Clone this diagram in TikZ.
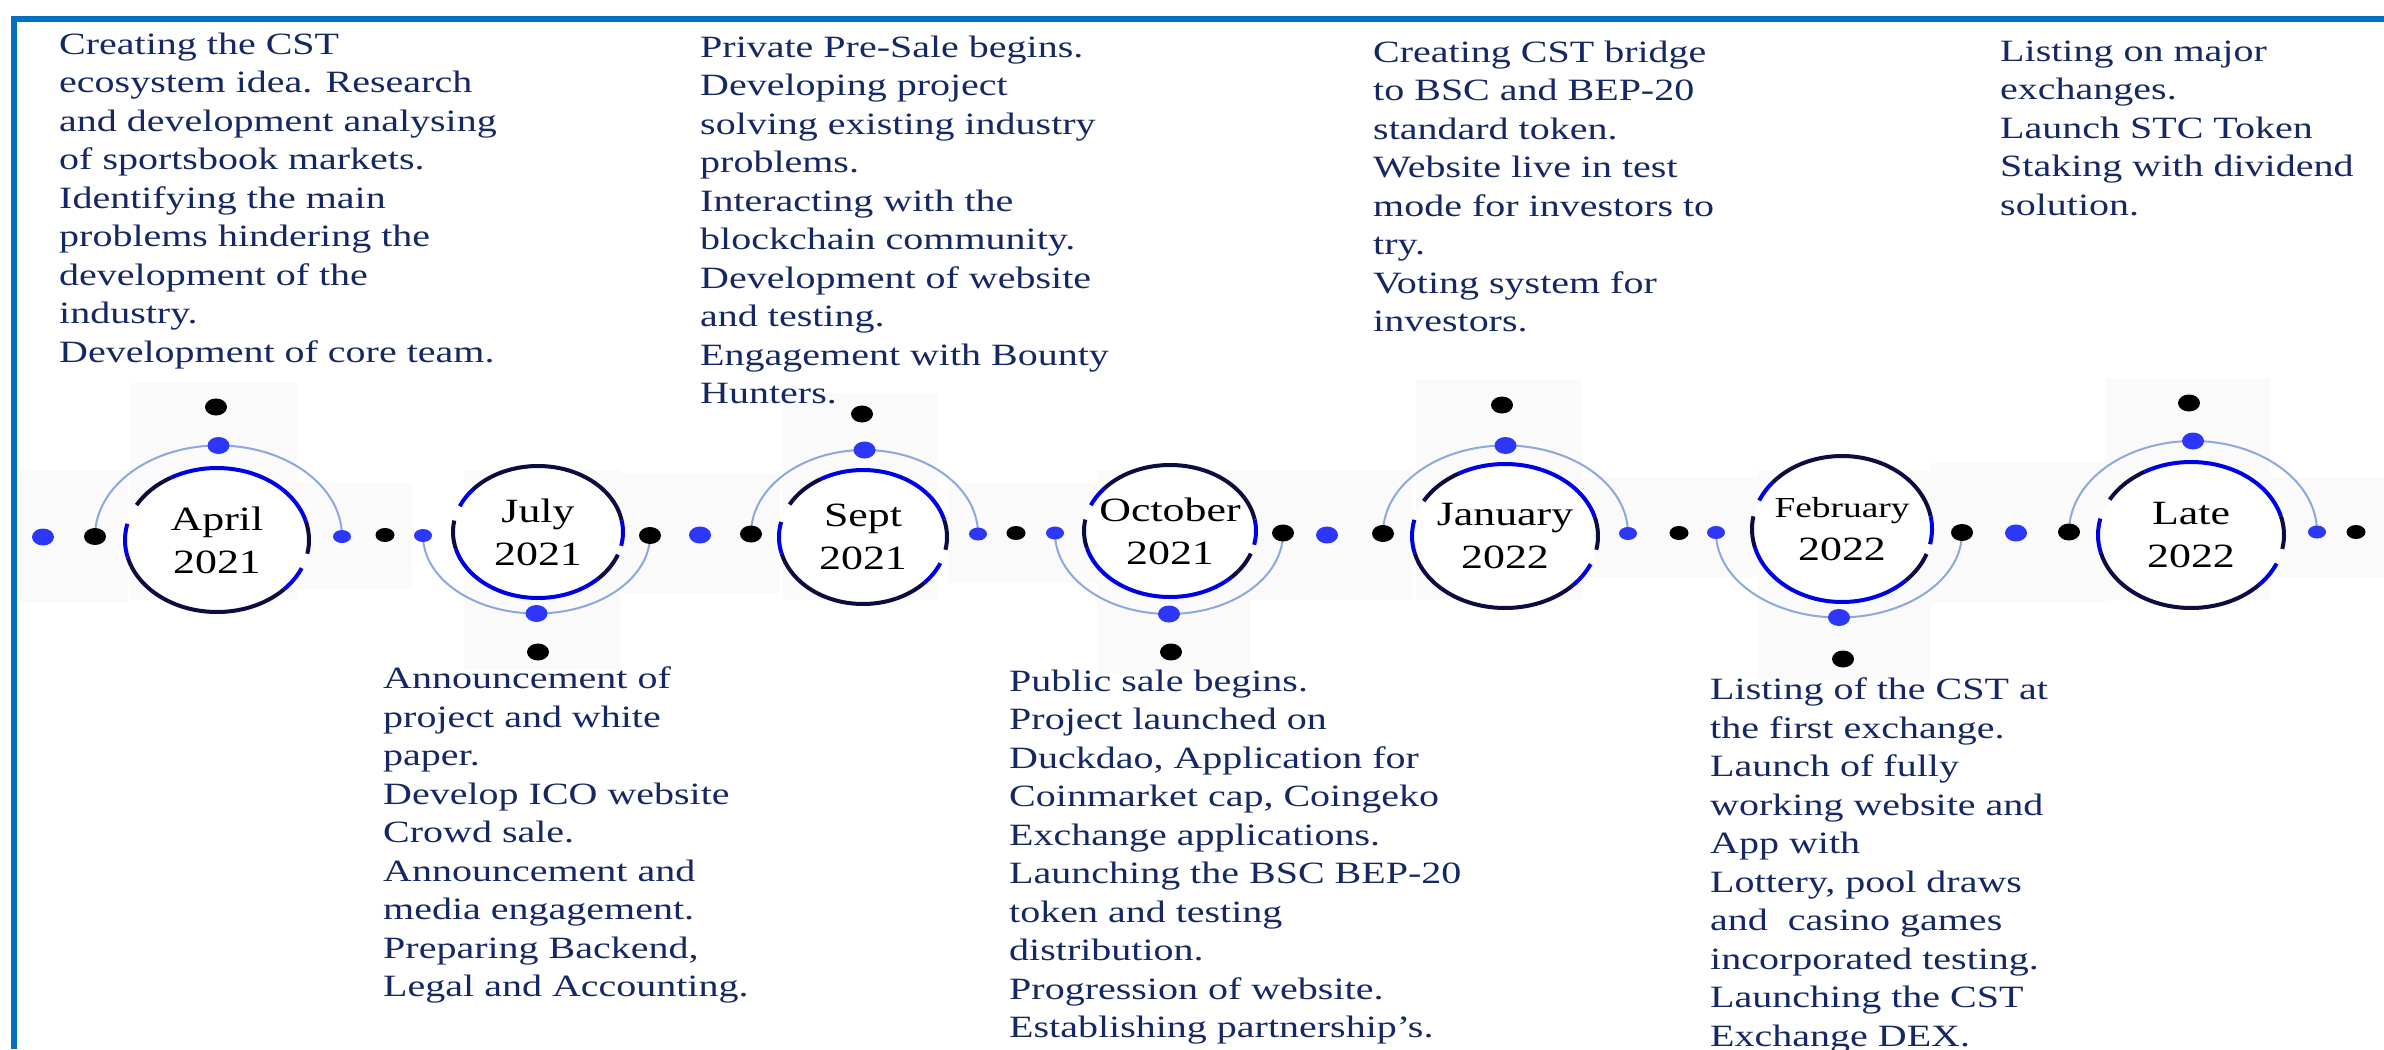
\documentclass[tikz,border=0pt]{standalone}
\usepackage{fontspec}
\setmainfont[FakeStretch=1.29]{Liberation Serif}
\usetikzlibrary{shapes.geometric}
\pgfdeclarelayer{bg}
\pgfsetlayers{bg,main}
\definecolor{frameblue}{RGB}{0,112,192}
\definecolor{txtnavy}{RGB}{22,40,100}
\definecolor{ringnavy}{RGB}{12,12,64}
\definecolor{ringblue}{RGB}{0,0,230}
\definecolor{dotblue}{RGB}{45,55,250}
\definecolor{arclight}{RGB}{140,168,220}
\definecolor{patchgray}{RGB}{250,250,250}
% segment: color, center, rx, ry, start, end
\newcommand{\seg}[6]{\draw[ringline,#1] (#2) ++(#5:#3 and #4) arc[start angle=#5, end angle=#6, x radius=#3, y radius=#4];}
\newcommand{\ringup}[3]{%
  \fill[white] (#1) ellipse [x radius=#2, y radius=#3];
  \seg{ringnavy}{#1}{#2}{#3}{-151}{-120}
  \seg{ringblue}{#1}{#2}{#3}{-120}{-15}
  \seg{ringnavy}{#1}{#2}{#3}{-15}{11}
  \seg{ringblue}{#1}{#2}{#3}{23}{43}
  \seg{ringnavy}{#1}{#2}{#3}{43}{166}
  \seg{ringblue}{#1}{#2}{#3}{166}{193}}
\newcommand{\ringdown}[3]{%
  \fill[white] (#1) ellipse [x radius=#2, y radius=#3];
  \seg{ringblue}{#1}{#2}{#3}{-157}{-140}
  \seg{ringnavy}{#1}{#2}{#3}{-140}{-10}
  \seg{ringblue}{#1}{#2}{#3}{-10}{12}
  \seg{ringnavy}{#1}{#2}{#3}{20}{45}
  \seg{ringblue}{#1}{#2}{#3}{45}{165}
  \seg{ringnavy}{#1}{#2}{#3}{165}{190}}
\begin{document}
\begin{tikzpicture}[x=1pt,y=-1pt,
  txt/.style={anchor=north west, inner sep=0pt, align=left, text=txtnavy, font=\fontsize{31}{38.5}\selectfont},
  lbl/.style={align=center, inner sep=0pt, text=black, font=\fontsize{34}{43}\selectfont},
  bbig/.style={ellipse, fill=dotblue, minimum width=22pt, minimum height=17pt, inner sep=0pt},
  bsm/.style={ellipse, fill=dotblue, minimum width=18pt, minimum height=13pt, inner sep=0pt},
  kbig/.style={ellipse, fill=black, minimum width=22pt, minimum height=17pt, inner sep=0pt},
  ksm/.style={ellipse, fill=black, minimum width=19pt, minimum height=14pt, inner sep=0pt},
  lightarc/.style={draw=arclight, line width=2pt},
  ringline/.style={line width=4pt},
  patch/.style={fill=patchgray}]
\useasboundingbox (0,0) rectangle (2384,1049);

% ---------- dots on the time line ----------
\node[bbig] (d1) at (43,537) {};
\node[kbig] (aL) at (95,536.5) {};
\node[bsm]  (aR) at (342,536.5) {};
\node[bbig] (aT) at (218.5,445.5) {};
\node[kbig] (aTT) at (216,407) {};
\node[ksm]  (d2) at (385,535) {};
\node[bsm]  (bL) at (423,535.5) {};
\node[kbig] (bR) at (650,535.5) {};
\node[bbig] (bB) at (536.5,613.5) {};
\node[kbig] (bBB) at (538,652) {};
\node[bbig] (d3) at (700,535) {};
\node[kbig] (cL) at (751,534) {};
\node[bsm]  (cR) at (978,534) {};
\node[bbig] (cT) at (864.5,450) {};
\node[kbig] (cTT) at (862,414) {};
\node[ksm]  (d4) at (1016,533) {};
\node[bsm]  (eL) at (1055,533) {};
\node[kbig] (eR) at (1283,533) {};
\node[bbig] (eB) at (1169,614) {};
\node[kbig] (eBB) at (1171,652) {};
\node[bbig] (d5) at (1327,535) {};
\node[kbig] (fL) at (1383,533.5) {};
\node[bsm]  (fR) at (1628,533.5) {};
\node[bbig] (fT) at (1505.5,445.5) {};
\node[kbig] (fTT) at (1502,405) {};
\node[ksm]  (d6) at (1679,533) {};
\node[bsm]  (gL) at (1716,532.5) {};
\node[kbig] (gR) at (1962,532.5) {};
\node[bbig] (gB) at (1839,617.5) {};
\node[kbig] (gBB) at (1843,659) {};
\node[bbig] (d7) at (2016,533) {};
\node[kbig] (hL) at (2069,532) {};
\node[bsm]  (hR) at (2317,532) {};
\node[bbig] (hT) at (2193,441) {};
\node[kbig] (hTT) at (2189,403) {};
\node[ksm]  (d8) at (2356,532) {};

% ring centres
\coordinate (cA) at (217,540);
\coordinate (cB) at (538,532);
\coordinate (cC) at (863,537);
\coordinate (cD) at (1170,531);
\coordinate (cE) at (1505,536);
\coordinate (cF) at (1842,529);
\coordinate (cG) at (2191,535);

\begin{pgfonlayer}{bg}
  \fill[white] (0,0) rectangle (2384,1049);
  % faint background patches
  \fill[patch] (20,470) rectangle (128,603);
  \fill[patch] (130,383) rectangle (298,600);
  \fill[patch] (233,482) rectangle (412,590);
  \fill[patch] (464,470) rectangle (620,670);
  \fill[patch] (620,473) rectangle (780,593);
  \fill[patch] (783,393) rectangle (937,600);
  \fill[patch] (948,483) rectangle (1097,583);
  \fill[patch] (1097,470) rectangle (1251,673);
  \fill[patch] (1249,470) rectangle (1412,600);
  \fill[patch] (1416,380) rectangle (1582,600);
  \fill[patch] (1582,477) rectangle (1758,577);
  \fill[patch] (1758,470) rectangle (1931,680);
  \fill[patch] (1931,463) rectangle (2111,603);
  \fill[patch] (2105,378) rectangle (2271,600);
  \fill[patch] (2271,477) rectangle (2384,577);
  % frame
  \draw[frameblue, line width=6pt] (14,1049) -- (14,19) -- (2384,19);
  % light outer arcs (connectors)
  \draw[lightarc] (aL.center) arc[start angle=-180, end angle=0, x radius=123.5, y radius=91];
  \draw[lightarc] (bL.center) arc[start angle=180, end angle=0, x radius=113.5, y radius=78];
  \draw[lightarc] (cL.center) arc[start angle=-180, end angle=0, x radius=113.5, y radius=84];
  \draw[lightarc] (eL.center) arc[start angle=180, end angle=0, x radius=114, y radius=81];
  \draw[lightarc] (fL.center) arc[start angle=-180, end angle=0, x radius=122.5, y radius=88];
  \draw[lightarc] (gL.center) arc[start angle=180, end angle=0, x radius=123, y radius=85];
  \draw[lightarc] (hL.center) arc[start angle=-180, end angle=0, x radius=124, y radius=91];
  % rings
  \ringup{cA}{92}{72}
  \ringdown{cB}{85}{66}
  \ringup{cC}{84}{67}
  \ringdown{cD}{86}{66}
  \ringup{cE}{93}{72}
  \ringdown{cF}{90}{73}
  \ringup{cG}{93}{73}
\end{pgfonlayer}

% ---------- ring labels ----------
\node[lbl] (lA) at (cA) {April\\2021};
\node[lbl] (lB) at (cB) {July\\2021};
\node[lbl] (lC) at (cC) {Sept\\2021};
\node[lbl] (lD) at (cD) {October\\2021};
\node[lbl] (lE) at (cE) {January\\2022};
\node[lbl] (lF) at (cF) {{\fontsize{29}{43}\selectfont February}\\2022};
\node[lbl] (lG) at (cG) {Late\\2022};

% ---------- text blocks ----------
\node[txt] (t1) at (59,32.7) {Creating the CST\\ecosystem idea. Research\\and development analysing\\of sportsbook markets.\\Identifying the main\\problems hindering the\\development of the\\industry.\\Development of core team.};
\node[txt] (t2) at (383,666.7) {Announcement of\\project and white\\paper.\\Develop ICO website\\Crowd sale.\\Announcement and\\media engagement.\\Preparing Backend,\\Legal and Accounting.};
\node[txt] (t3) at (700,35.7) {Private Pre-Sale begins.\\Developing project\\solving existing industry\\problems.\\Interacting with the\\blockchain community.\\Development of website\\and testing.\\Engagement with Bounty\\Hunters.};
\node[txt] (t4) at (1373,40.7) {Creating CST bridge\\to BSC and BEP-20\\standard token.\\Website live in test\\mode for investors to\\try.\\Voting system for\\investors.};
\node[txt] (t5) at (2000,40.7) {Listing on major\\exchanges.\\Launch STC Token\\Staking with dividend\\solution.};
\node[txt] (t6) at (1009,669.7) {Public sale begins.\\Project launched on\\Duckdao, Application for\\Coinmarket cap, Coingeko\\Exchange applications.\\Launching the BSC BEP-20\\token and testing\\distribution.\\Progression of website.\\Establishing partnership’s.};
\node[txt] (t7) at (1710,677.7) {Listing of the CST at\\the first exchange.\\Launch of fully\\working website and\\App with\\Lottery, pool draws\\and\ \ casino games\\incorporated testing.\\Launching the CST\\Exchange DEX.};
\end{tikzpicture}
\end{document}
